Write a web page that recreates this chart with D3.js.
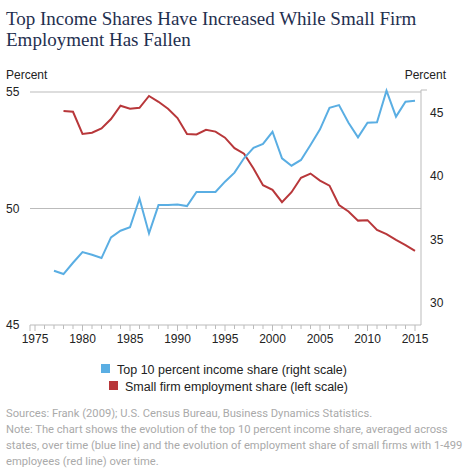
<!DOCTYPE html>
<html><head><meta charset="utf-8">
<script src="https://cdn.jsdelivr.net/npm/d3@7"></script>
<style>body{margin:0;background:#fff}</style></head>
<body><svg id="c" width="470" height="474"></svg>
<script>
const years = d3.range(1977, 2016);
const topIncome = [32.56,32.30,33.19,34.03,33.82,33.56,35.19,35.71,35.98,38.23,35.50,37.73,37.73,37.78,37.65,38.76,38.76,38.76,39.57,40.28,41.41,42.24,42.54,43.5,41.41,40.83,41.28,42.46,43.69,45.39,45.6,44.21,43.06,44.21,44.24,46.73,44.69,45.87,45.94];
const smallFirm = [null,54.18,54.15,53.2,53.25,53.44,53.84,54.41,54.28,54.32,54.83,54.58,54.28,53.88,53.2,53.18,53.38,53.3,53.04,52.59,52.35,51.72,51.0,50.8,50.27,50.7,51.32,51.5,51.2,50.98,50.15,49.87,49.48,49.5,49.08,48.9,48.65,48.43,48.18];
const xTicks = [1975,1980,1985,1990,1995,2000,2005,2010,2015];
const leftTicks = [45,50,55];
const rightTicks = [30,35,40,45];
const notes = ["Sources: Frank (2009); U.S. Census Bureau, Business Dynamics Statistics.",
"Note: The chart shows the evolution of the top 10 percent income share, averaged across",
"states, over time (blue line) and the evolution of employment share of small firms with 1-499",
"employees (red line) over time."];

const svg = d3.select("#c");
const font = "Arial, 'Liberation Sans', sans-serif";
svg.append("text").attr("x",6).attr("y",25).attr("font-family","Georgia, 'Liberation Serif', serif").attr("font-size",19).attr("fill","#1f2f4f").text("Top Income Shares Have Increased While Small Firm");
svg.append("text").attr("x",6).attr("y",46).attr("font-family","Georgia, 'Liberation Serif', serif").attr("font-size",19).attr("fill","#1f2f4f").text("Employment Has Fallen");

const x = d3.scaleLinear().domain([1975,2015]).range([35,415]);
const yL = d3.scaleLinear().domain([45,55]).range([325,92]);
const yR = d3.scaleLinear().domain([28.29,46.63]).range([325,92]);

svg.selectAll(".g").data([50,55]).join("line").attr("x1",30).attr("x2",421)
  .attr("y1",d=>yL(d)).attr("y2",d=>yL(d)).attr("stroke","#bbb").attr("stroke-width",1);

svg.append("line").attr("x1",30).attr("x2",421).attr("y1",325).attr("y2",325).attr("stroke","#bbb");
svg.selectAll(".mt").data(d3.range(1975,2016)).join("line").attr("x1",d=>x(d)).attr("x2",d=>x(d))
  .attr("y1",325).attr("y2",d=>d%5===0?331:329).attr("stroke","#bbb");
svg.append("line").attr("x1",30).attr("x2",30).attr("y1",325).attr("y2",331).attr("stroke","#bbb");
svg.selectAll(".xl").data(xTicks).join("text").attr("x",d=>x(d)).attr("y",343).attr("text-anchor","middle")
  .attr("font-family",font).attr("font-size",12).attr("fill","#222").text(d=>d);

svg.selectAll(".ll").data(leftTicks).join("text").attr("x",6).attr("y",d=>yL(d)+4).attr("font-family",font)
  .attr("font-size",12).attr("fill","#222").text(d=>d);
svg.append("text").attr("x",6).attr("y",79).attr("font-family",font).attr("font-size",12).attr("fill","#222").text("Percent");

svg.append("line").attr("x1",421).attr("x2",421).attr("y1",90).attr("y2",325).attr("stroke","#bbb");
svg.append("line").attr("x1",421).attr("x2",427).attr("y1",90).attr("y2",90).attr("stroke","#bbb");
svg.selectAll(".rl").data(rightTicks).join("text").attr("x",430).attr("y",d=>yR(d)+4).attr("font-family",font)
  .attr("font-size",12).attr("fill","#222").text(d=>d);
svg.append("text").attr("x",446).attr("y",79).attr("text-anchor","end").attr("font-family",font).attr("font-size",12).attr("fill","#222").text("Percent");

const lineR = d3.line().defined(d=>d[1]!=null).x(d=>x(d[0])).y(d=>yL(d[1]));
const lineB = d3.line().x(d=>x(d[0])).y(d=>yR(d[1]));
svg.append("path").datum(years.map((y,i)=>[y,smallFirm[i]])).attr("d",lineR).attr("fill","none").attr("stroke","#b8373a").attr("stroke-width",2);
svg.append("path").datum(years.map((y,i)=>[y,topIncome[i]])).attr("d",lineB).attr("fill","none").attr("stroke","#5aaee3").attr("stroke-width",2);

const leg = [["Top 10 percent income share (right scale)","#5aaee3",101,374],["Small firm employment share (left scale)","#b8373a",109,391]];
leg.forEach(l=>{
  svg.append("rect").attr("x",l[2]).attr("y",l[3]-10).attr("width",9).attr("height",9).attr("fill",l[1]);
  svg.append("text").attr("x",l[2]+16).attr("y",l[3]).attr("font-family",font).attr("font-size",12.5).attr("fill","#222").text(l[0]);
});

svg.selectAll(".n").data(notes).join("text").attr("x",6).attr("y",(d,i)=>417+i*16).attr("font-family","Roboto, sans-serif")
  .attr("font-size",11.2).attr("fill","#aaa").text(d=>d);
</script></body></html>
